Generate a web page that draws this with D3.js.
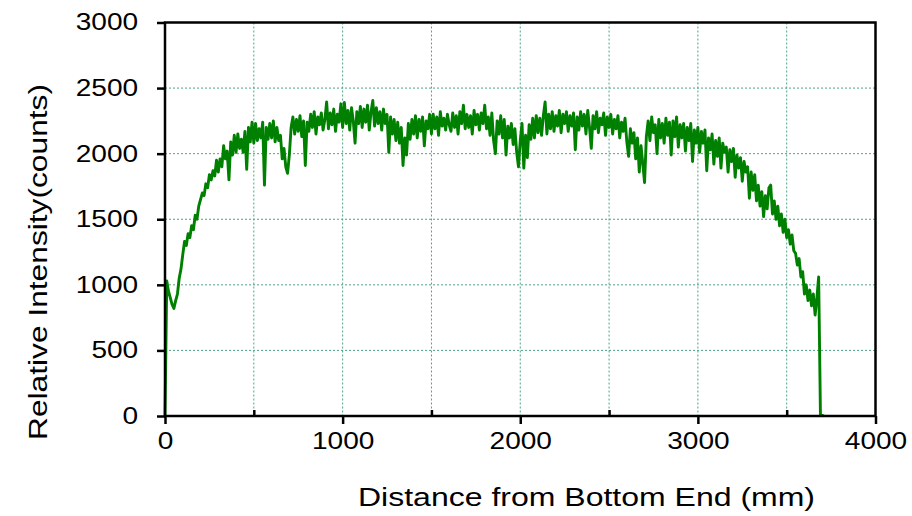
<!DOCTYPE html>
<html>
<head>
<meta charset="utf-8">
<script src="https://cdn.jsdelivr.net/npm/d3@7"></script>
<style>
  body { margin: 0; background: #fff; }
  svg { display: block; font-family: "Liberation Sans", Arial, sans-serif; }
</style>
</head>
<body>
<div id="chart"></div>
<script>
// sample spacing along the rod (mm), counts every 10 mm from 0
var stepMM = 10;
var counts = [
  0, 1030, 950, 900, 850, 820, 880, 930, 1050, 1120, 1230,
  1330, 1300, 1390, 1360, 1450, 1420, 1530, 1500, 1600, 1650,
  1700, 1680, 1770, 1740, 1840, 1800, 1870, 1830, 1950, 1860,
  1960, 1900, 2060, 1960, 2020, 1800, 2090, 1990, 2140, 2010,
  2150, 2040, 2110, 2010, 2170, 1880, 2200, 2090, 2240, 2080,
  2230, 2100, 2190, 2120, 2240, 1760, 2200, 2110, 2230, 2120,
  2250, 2090, 2200, 2100, 2140, 1960, 2040, 1900, 1850, 1990,
  2200, 2280, 2150, 2260, 2170, 2290, 2130, 2250, 1910, 2240,
  2170, 2300, 2200, 2320, 2150, 2280, 2220, 2310, 2180, 2260,
  2395, 2190, 2310, 2220, 2340, 2170, 2300, 2240, 2380, 2200,
  2390, 2230, 2330, 2180, 2350, 2250, 2080, 2320, 2230, 2360,
  2200, 2340, 2240, 2370, 2180, 2320, 2405, 2210, 2350, 2230,
  2320, 2180, 2340, 2230, 2300, 2010, 2280, 2150, 2260, 2100,
  2240, 2080, 2200, 1910, 2120, 1990, 2230, 2110, 2260, 2150,
  2290, 2120, 2260, 2170, 2280, 2060, 2250, 2190, 2300, 2150,
  2300, 2190, 2280, 2140, 2320, 2210, 2270, 2180, 2300, 2220,
  2170, 2310, 2200, 2290, 2150, 2320, 2230, 2370, 2190, 2300,
  2200, 2290, 2150, 2330, 2220, 2300, 2180, 2310, 2230, 2370,
  2190, 2280, 2140, 2310, 2100, 2000, 2250, 2150, 2290, 2120,
  2260, 1990, 2210, 2120, 2230, 2070, 2190, 2010, 1900, 2100,
  2230, 1890, 2140, 1970, 2220, 2110, 2270, 2120, 2290, 2160,
  2270, 2140, 2290, 2395, 2150, 2300, 2190, 2320, 2170, 2290,
  2210, 2330, 2160, 2300, 2230, 2320, 2170, 2290, 2210, 2310,
  2030, 2280, 2180, 2320, 2210, 2300, 2150, 2330, 2200, 2040,
  2290, 2190, 2320, 2160, 2270, 2220, 2310, 2140, 2280, 2200,
  2300, 2150, 2260, 2190, 2290, 2120, 2240, 2170, 2270, 2090,
  1980, 2190, 2080, 2160, 1960, 2120, 1860, 2060, 1920, 1780,
  2130, 2250, 2100, 2280, 2160, 2220, 2000, 2260, 2120, 2230,
  2080, 2270, 2140, 2240, 1990, 2250, 2130, 2280, 2050, 2220,
  2120, 2230, 2020, 2200, 2100, 2230, 1940, 2180, 2080, 2200,
  2010, 2170, 2080, 2180, 1870, 2120, 2030, 2150, 1920, 2100,
  1980, 2120, 1890, 2080, 2010, 2050, 1860, 2030, 1940, 2040,
  1820, 1990, 1890, 1970, 1790, 1940, 1860, 1900, 1660, 1860,
  1720, 1840, 1640, 1760, 1600, 1710, 1520, 1680, 1580, 1740,
  1760, 1540, 1640, 1500, 1600, 1450, 1540, 1400, 1500, 1360,
  1420, 1310, 1380, 1260, 1240, 1150, 1200, 1060, 1100, 930,
  1000, 880, 960, 840, 930, 770, 900, 1060, 15, 5,
  0
];
var xMajorTicks = [0, 1000, 2000, 3000, 4000];
var xMinorTicks = [500, 1500, 2500, 3500];
var xGrid = [500, 1000, 1500, 2000, 2500, 3000, 3500];
var yTicks = [0, 500, 1000, 1500, 2000, 2500, 3000];
var yGrid = [500, 1000, 1500, 2000, 2500];
var xTitle = "Distance from Bottom End (mm)";
var yTitle = "Relative Intensity(counts)";

var W = 912, H = 516;
var plotL = 165, plotR = 875.5, plotT = 22.5, plotB = 416;

var svg = d3.select("#chart").append("svg")
    .attr("width", W)
    .attr("height", H);

var x = d3.scaleLinear().domain([0, 4000]).range([plotL, plotR]);
var y = d3.scaleLinear().domain([0, 3000]).range([plotB, plotT]);

// grid
svg.append("g").selectAll("line")
    .data(xGrid)
    .enter().append("line")
    .attr("x1", function(d){ return x(d); })
    .attr("x2", function(d){ return x(d); })
    .attr("y1", plotT)
    .attr("y2", plotB)
    .attr("stroke", "#4fa383")
    .attr("stroke-width", 1)
    .attr("stroke-dasharray", "2,2");

svg.append("g").selectAll("line")
    .data(yGrid)
    .enter().append("line")
    .attr("x1", plotL)
    .attr("x2", plotR)
    .attr("y1", function(d){ return y(d); })
    .attr("y2", function(d){ return y(d); })
    .attr("stroke", "#4fa383")
    .attr("stroke-width", 1)
    .attr("stroke-dasharray", "2,2");

// data line
var line = d3.line()
    .x(function(d, i){ return x(i * stepMM); })
    .y(function(d){ return y(d); });

svg.append("path")
    .datum(counts)
    .attr("d", line)
    .attr("fill", "none")
    .attr("stroke", "#008000")
    .attr("stroke-width", 2.9)
    .attr("stroke-linejoin", "round");

// axes
var yAxis = svg.append("g")
    .attr("transform", "translate(" + plotL + ",0)")
    .call(d3.axisLeft(y).tickValues(yTicks).tickSize(8).tickPadding(0).tickFormat(d3.format("d")));

var xAxis = svg.append("g")
    .attr("transform", "translate(0," + plotB + ")")
    .call(d3.axisBottom(x).tickValues(xMajorTicks).tickSize(8).tickPadding(9).tickFormat(d3.format("d")));

var xMinor = svg.append("g")
    .attr("transform", "translate(0," + plotB + ")")
    .call(d3.axisBottom(x).tickValues(xMinorTicks).tickSize(-6).tickFormat(""));

[yAxis, xAxis, xMinor].forEach(function(g){
    g.select(".domain").remove();
    g.selectAll(".tick line").attr("stroke", "#000").attr("stroke-width", 2.5);
    g.selectAll("text")
        .attr("fill", "#000")
        .style("font-size", "23px")
        .style("font-family", "'Liberation Sans', Arial, sans-serif");
});

yAxis.selectAll("text")
    .attr("x", -22)
    .attr("transform", "scale(1.22,1)");
xAxis.selectAll("text")
    .attr("transform", "scale(1.22,1)");

// frame
svg.append("rect")
    .attr("x", plotL)
    .attr("y", plotT)
    .attr("width", plotR - plotL)
    .attr("height", plotB - plotT)
    .attr("fill", "none")
    .attr("stroke", "#000")
    .attr("stroke-width", 2.5);

// titles
svg.append("text")
    .attr("x", 586.5)
    .attr("y", 506)
    .attr("text-anchor", "middle")
    .attr("textLength", 457)
    .attr("lengthAdjust", "spacingAndGlyphs")
    .style("font-size", "25px")
    .text(xTitle);

svg.append("text")
    .attr("transform", "translate(47,262) rotate(-90)")
    .attr("text-anchor", "middle")
    .attr("textLength", 356)
    .attr("lengthAdjust", "spacingAndGlyphs")
    .style("font-size", "26px")
    .text(yTitle);
</script>
</body>
</html>
